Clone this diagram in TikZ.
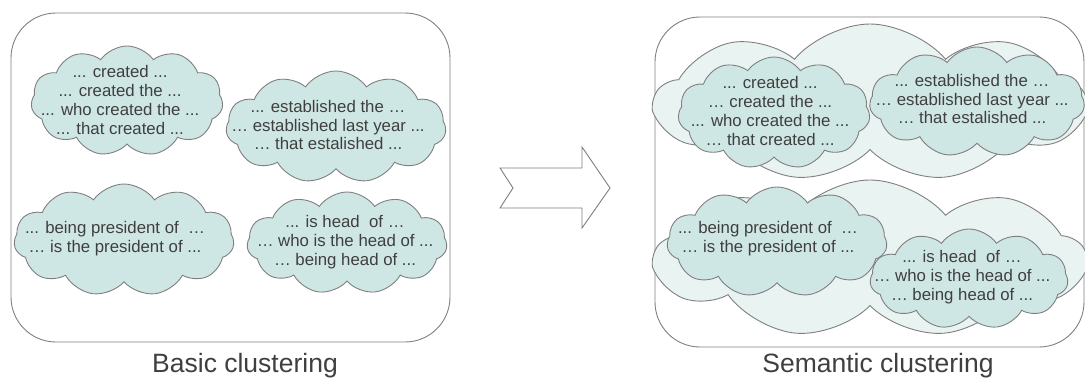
\documentclass[tikz,border=0pt]{standalone}
\usepackage{fontspec}
\setmainfont{Liberation Sans}
\usetikzlibrary{shapes.symbols}
\definecolor{edgegray}{HTML}{7F7F7F}
\definecolor{txtgray}{HTML}{3F3F3F}
\definecolor{smallfill}{HTML}{CFE7E4}
\definecolor{bigfill}{HTML}{E9F4F2}
\tikzset{
  frame/.style={draw=edgegray, line width=0.9pt, rounded corners=45pt},
  smallcloud/.style={cloud, cloud puffs=11, cloud puff arc=110, cloud ignores aspect, draw=edgegray, line width=0.9pt, fill=smallfill, inner sep=0pt},
  bigcloud/.style={cloud, cloud puffs=9, cloud puff arc=100, cloud ignores aspect, draw=edgegray, line width=0.9pt, fill=bigfill, inner sep=0pt},
  cloudtext/.style={align=center, text=txtgray, font=\fontsize{16.8}{18.7}\selectfont, inner sep=0pt},
  caption/.style={text=txtgray, font=\fontsize{26.5}{30}\selectfont, inner sep=0pt},
  bigarrow/.style={draw=edgegray, line width=0.9pt, fill=white},
}
\begin{document}
\begin{tikzpicture}[x=1pt,y=-1pt]
\useasboundingbox (0,0) rectangle (1085,383);
% left frame
\node[frame, minimum width=439pt, minimum height=329pt, inner sep=0pt] (leftbox) at (230.5,177.5) {};
% left clouds
\node[smallcloud, minimum width=192pt, minimum height=110pt] (l1) at (127,101) {};
\node[cloudtext] (l1t) at (120,100) {... created ...\\... created the ...\\... who created the ...\\... that created ...};
\node[smallcloud, minimum width=220pt, minimum height=112pt] (l2) at (336,127) {};
\node[cloudtext] (l2t) at (328,125) {... established the \dots\\\dots\ established last year ...\\\dots\ that estalished ...};
\node[smallcloud, minimum width=220pt, minimum height=112pt] (l3) at (124,240) {};
\node[cloudtext] (l3t) at (115,239) {... being president of \ \dots\\\dots\ is the president of ...};
\node[smallcloud, minimum width=200pt, minimum height=102pt] (l4) at (347,243) {};
\node[cloudtext] (l4t) at (345,242) {... is head \ of \dots\\\dots\ who is the head of ...\\\dots\ being head of ...};
% arrow
\draw[bigarrow] (500,168) -- (582,168) -- (582,147) -- (610,188) -- (582,228) -- (582,208) -- (500,208) -- (513,188) -- cycle;
% right frame
\node[frame, minimum width=429pt, minimum height=330pt, inner sep=0pt] (rightbox) at (869.5,182) {};
% big clouds
\node[bigcloud, minimum width=430pt, minimum height=158pt] (ba) at (870,103) {};
\node[bigcloud, minimum width=430pt, minimum height=158pt] (bb) at (870,259) {};
% right small clouds
\node[smallcloud, minimum width=192pt, minimum height=112pt] (r1) at (774,113) {};
\node[cloudtext] (r1t) at (770,111) {... created ...\\\dots\ created the ...\\... who created the ...\\\dots\ that created ...};
\node[smallcloud, minimum width=215pt, minimum height=110pt] (r2) at (977,102) {};
\node[cloudtext] (r2t) at (972,99) {... established the \dots\\\dots\ established last year ...\\\dots\ that estalished ...};
\node[smallcloud, minimum width=220pt, minimum height=110pt] (r3) at (777,242) {};
\node[cloudtext] (r3t) at (768,239) {... being president of \ \dots\\\dots\ is the president of ...};
\node[smallcloud, minimum width=198pt, minimum height=100pt] (r4) at (969,279) {};
\node[cloudtext] (r4t) at (962,277) {... is head \ of \dots\\\dots\ who is the head of ...\\\dots\ being head of ...};
% captions
\node[caption] (capl) at (245,366) {Basic clustering};
\node[caption] (capr) at (878,366) {Semantic clustering};
\end{tikzpicture}
\end{document}
